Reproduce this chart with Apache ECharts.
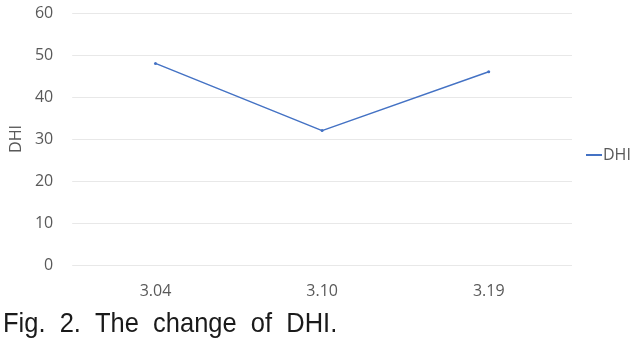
<!DOCTYPE html>
<html><head><meta charset="utf-8">
<script src="https://cdn.jsdelivr.net/npm/echarts@6/dist/echarts.min.js"></script>
<style>html,body{margin:0;padding:0;background:#fff}#c{width:638px;height:346px}</style>
</head><body><div id="c"></div>
<script>
const categories = ['3.04', '3.10', '3.19'];
const dhiValues = [48, 32, 46];
const yTicks = [0, 10, 20, 30, 40, 50, 60];
const seriesName = 'DHI';
const caption = 'Fig.  2.  The  change  of  DHI.';

const chart = echarts.init(document.getElementById('c'), null, {renderer: 'canvas'});
chart.setOption({
  animation: false,
  backgroundColor: '#fff',
  grid: {left: 68, right: 66, top: 13, bottom: 81},
  legend: {
    data: [seriesName], orient: 'vertical', left: 581, top: 142,
    itemWidth: 16, itemHeight: 2, itemGap: 0,
    icon: 'rect',
    textStyle: {fontFamily: 'Open Sans', fontSize: 16, color: '#595959', padding: [0,0,0,-4]}
  },
  xAxis: {
    type: 'category', data: categories, boundaryGap: true,
    axisLine: {show: false}, axisTick: {show: false},
    axisLabel: {margin: 18, fontFamily: 'Open Sans', fontSize: 16, color: '#595959'}
  },
  yAxis: {
    type: 'value', min: yTicks[0], max: yTicks[yTicks.length-1], interval: 10,
    name: 'DHI', nameLocation: 'middle', nameGap: 47, nameRotate: 90,
    nameTextStyle: {fontFamily: 'Open Sans', fontSize: 16, color: '#595959'},
    axisLine: {show: false}, axisTick: {show: false},
    axisLabel: {margin: 19, fontFamily: 'Open Sans', fontSize: 16, color: '#595959'},
    splitLine: {lineStyle: {color: '#e8e8e8', width: 1}}
  },
  series: [{
    name: seriesName, type: 'line', data: dhiValues,
    symbol: 'circle', symbolSize: 3, showSymbol: true,
    lineStyle: {color: '#4472C4', width: 1.5},
    itemStyle: {color: '#4472C4'}
  }],
  graphic: [{
    type: 'text', x: 3, y: 310, scaleX: 0.91,
    style: {text: caption, font: '28px "Liberation Sans", sans-serif', fill: '#1a1a1a'}
  }]
});
</script></body></html>
